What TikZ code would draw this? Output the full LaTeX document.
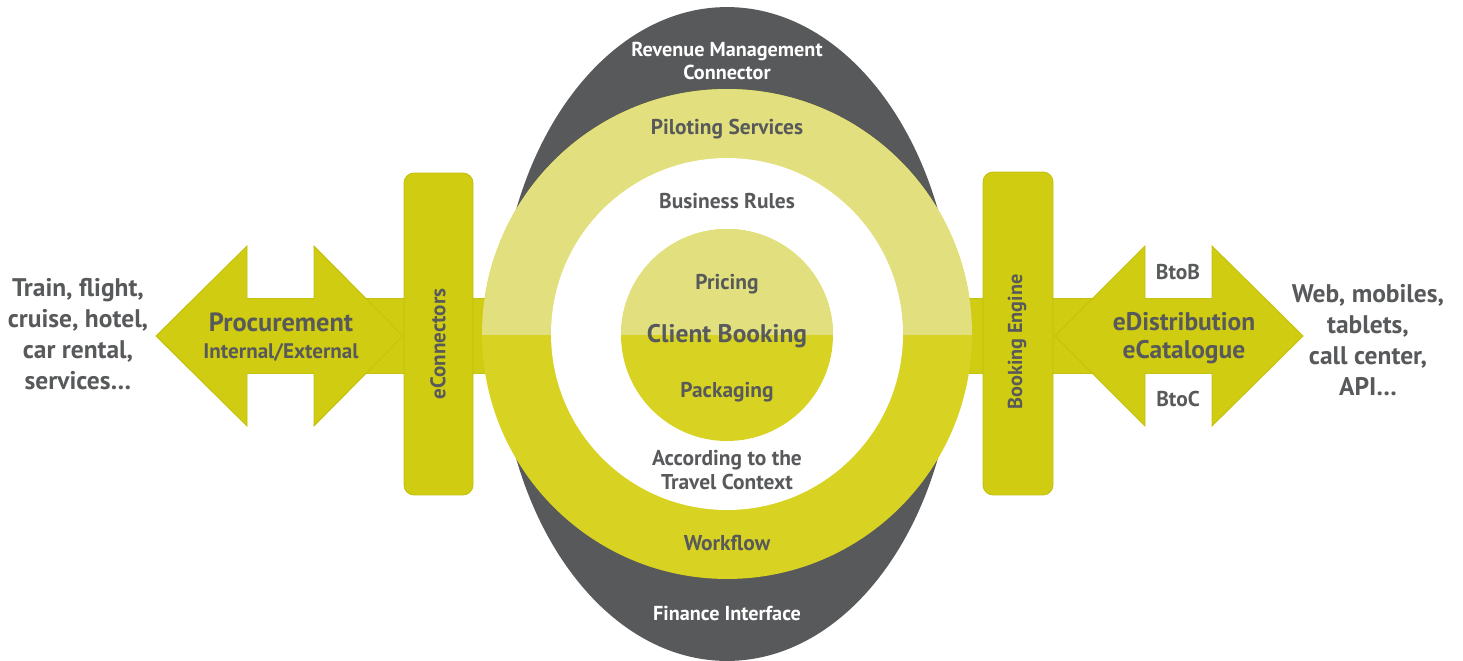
\documentclass[tikz,border=0pt]{standalone}
\usepackage{fontspec}
\setmainfont{PT Sans}
\usetikzlibrary{positioning}

\definecolor{coregrey}{HTML}{58595B}
\definecolor{txtgrey}{HTML}{58595B}
\definecolor{palelime}{HTML}{E2E07E}
\definecolor{ringlime}{HTML}{D8D322}
\definecolor{barlime}{HTML}{D0CC12}
\definecolor{edgelime}{HTML}{C4C00E}

\begin{document}
\begin{tikzpicture}[
  x=0.02cm,
  y=-0.02cm,
  every node/.style={text=txtgrey,align=center,inner sep=0pt},
  side text/.style={font=\bfseries\fontsize{14.5}{17.6}\selectfont},
  ring text/.style={font=\bfseries\fontsize{12.2}{12.5}\selectfont},
  white text/.style={font=\bfseries\fontsize{11.5}{12.5}\selectfont,text=white},
  arrow body/.style={fill=barlime,draw=edgelime,line width=0.5pt},
  side box/.style={fill=barlime,draw=edgelime,line width=0.5pt,rounded corners=0.2cm},
]
\useasboundingbox (0,0) rectangle (1463,660);

% connecting bar behind everything
\draw[arrow body] (300,298.5) rectangle (1100,373.5);

% outer dark ellipse and the two-tone ring
\fill[coregrey] (727,334) ellipse [x radius=4.56cm,y radius=6.54cm];
\fill[ringlime] (727,334) circle (4.9cm);
\begin{scope}
  \clip (470,0) rectangle (985,334);
  \fill[palelime] (727,334) circle (4.9cm);
\end{scope}
\fill[white] (727,334) circle (3.52cm);
\fill[ringlime] (727,335) circle (2.12cm);
\begin{scope}
  \clip (600,200) rectangle (850,334);
  \fill[palelime] (727,335) circle (2.12cm);
\end{scope}

% double arrows
\draw[arrow body] (156,336) -- (247,246) -- (247,298.5) -- (314,298.5) -- (314,246)
  -- (403,336) -- (314,426) -- (314,373.5) -- (247,373.5) -- (247,426) -- cycle;
\draw[arrow body] (1055,336) -- (1145,246) -- (1145,298.5) -- (1212,298.5) -- (1212,246)
  -- (1303,336) -- (1212,426) -- (1212,373.5) -- (1145,373.5) -- (1145,426) -- cycle;

% vertical boxes
\node[side box,minimum width=1.38cm,minimum height=6.44cm] (econbox) at (438.5,334) {};
\node[side box,minimum width=1.40cm,minimum height=6.46cm] (bookbox) at (1018,333.5) {};
\node[ring text,font=\bfseries\fontsize{12}{12}\selectfont,rotate=90] (econ) at (438,344) {eConnectors};
\node[ring text,font=\bfseries\fontsize{11.5}{12}\selectfont,rotate=90] (book) at (1017,342) {Booking Engine};

% outside labels
\node[side text] (sources) at (78,334) {Train, flight,\\cruise, hotel,\\car rental,\\services\dots};
\node[side text] (channels) at (1368,340) {Web, mobiles,\\tablets,\\call center,\\API\dots};

% arrow labels
\node[font=\bfseries\fontsize{15}{15}\selectfont] (proc) at (281,322) {Procurement};
\node[font=\bfseries\fontsize{12}{12}\selectfont] (procsub) at (281,352) {Internal/External};
\node[font=\bfseries\fontsize{14.5}{14.5}\selectfont] (edist) at (1184,322) {eDistribution};
\node[font=\bfseries\fontsize{14.5}{14.5}\selectfont] (ecat) at (1184,352) {eCatalogue};
\node[ring text] (btob) at (1178,272) {BtoB};
\node[ring text] (btoc) at (1178,399) {BtoC};

% circle labels
\node[white text] (revenue) at (727,61) {Revenue Management\\[1pt]Connector};
\node[ring text] (piloting) at (727,129) {Piloting Services};
\node[ring text] (rules) at (727,201) {Business Rules};
\node[ring text] (pricing) at (727,284) {Pricing};
\node[font=\bfseries\fontsize{14.5}{14.5}\selectfont] (client) at (727,336) {Client Booking};
\node[ring text] (packaging) at (727,392) {Packaging};
\node[ring text] (context) at (727,470) {According to the\\[1pt]Travel Context};
\node[ring text] (workflow) at (727,543) {Workflow};
\node[white text] (finance) at (727,613) {Finance Interface};
\end{tikzpicture}
\end{document}
